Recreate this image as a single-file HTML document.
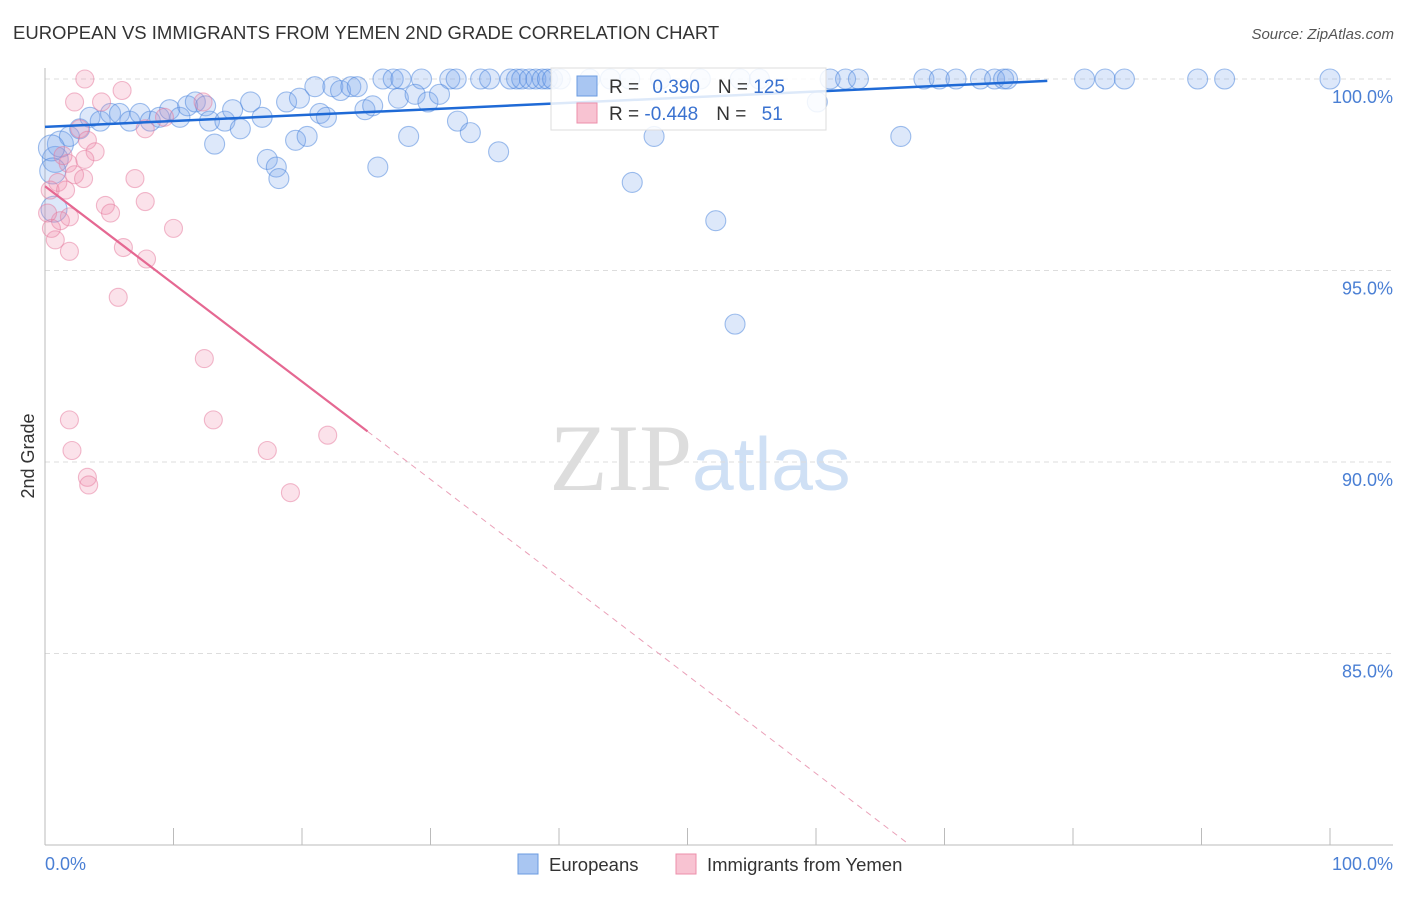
<!DOCTYPE html>
<html><head><meta charset="utf-8"><style>
body{margin:0;background:#fff;font-family:"Liberation Sans",sans-serif}
</style></head><body>
<svg width="1406" height="892" viewBox="0 0 1406 892" xmlns="http://www.w3.org/2000/svg" font-family="Liberation Sans, sans-serif">
<text x="13" y="39" font-size="18.5" fill="#333">EUROPEAN VS IMMIGRANTS FROM YEMEN 2ND GRADE CORRELATION CHART</text>
<text x="1394" y="39" font-size="15" fill="#555" font-style="italic" text-anchor="end">Source: ZipAtlas.com</text>
<text x="700" y="490" font-size="95" text-anchor="middle" fill="#ddd" font-family="Liberation Serif, serif">ZIP<tspan fill="#cfe0f5" font-family="Liberation Sans, sans-serif" font-size="75">atlas</tspan></text>
<g id="grid"></g>
<line x1="45" y1="68" x2="45" y2="845" stroke="#bbb"/>
<line x1="45" y1="845" x2="1393" y2="845" stroke="#bbb"/>
<text transform="translate(34,456) rotate(-90)" font-size="18" fill="#333" text-anchor="middle">2nd Grade</text>
<text x="45" y="870" font-size="18" fill="#4a7fd4">0.0%</text>
<text x="1393" y="870" font-size="18" fill="#4a7fd4" text-anchor="end">100.0%</text>
<g id="ylabels"></g>
<g id="dots"></g>
<g id="lines"></g>
<g>
<rect x="551" y="68" width="275" height="62" fill="rgba(255,255,255,0.85)" stroke="#ddd"/>
<rect x="577" y="76" width="20" height="20" fill="#a9c6f2" stroke="#6a9be0"/>
<rect x="577" y="103" width="20" height="20" fill="#f8c3d2" stroke="#ec8fab"/>
<text x="609" y="93" font-size="19" fill="#333">R = <tspan fill="#3a72d0" dx="8">0.390</tspan><tspan dx="18" fill="#333">N = </tspan><tspan fill="#3a72d0">125</tspan></text>
<text x="609" y="120" font-size="19" fill="#333">R = <tspan fill="#3a72d0">-0.448</tspan><tspan dx="18" fill="#333">N = </tspan><tspan fill="#3a72d0" dx="10">51</tspan></text>
</g>
<g>
<rect x="518" y="854" width="20" height="20" fill="#a9c6f2" stroke="#6a9be0"/>
<text x="549" y="871" font-size="18.5" fill="#333">Europeans</text>
<text x="707" y="871" font-size="18.5" fill="#333">Immigrants from Yemen</text>
<rect x="676" y="854" width="20" height="20" fill="#f8c3d2" stroke="#ec8fab"/>
</g>
</svg>
<script>
const yTicks=[100,95,90,85];
const yTickLabels=["100.0%","95.0%","90.0%","85.0%"];
const xTicks=[0,10,20,30,40,50,60,70,80,90,100];
const euroX=[26.3,27.1,27.7,29.3,31.5,32.0,33.9,34.6,36.2,36.7,37.1,37.7,38.2,38.7,39.1,39.5,40.1,42.4,44.0,45.5,47.9,51.0,54.1,55.6,61.1,62.3,63.3,68.4,69.6,70.9,72.8,73.9,74.6,74.9,80.9,82.5,84.0,89.7,91.8,100,
0.8,1.2,1.9,2.7,3.5,4.3,5.1,5.8,6.6,7.4,8.2,8.9,9.7,10.5,11.1,11.7,12.5,12.8,13.2,14.0,14.6,15.2,16.0,16.9,17.3,18.0,18.2,18.8,19.5,19.8,20.4,21.0,21.4,21.9,22.4,23.0,23.8,24.3,24.9,25.5,25.9,27.5,28.3,28.8,29.8,30.7,32.1,33.1,35.3,45.7,47.4,52.2,53.7,60.1,66.6,0.5,0.6,0.7];
const euroY=[100,100,100,100,100,100,100,100,100,100,100,100,100,100,100,100,100,100,100,100,100,100,100,100,100,100,100,100,100,100,100,100,100,100,100,100,100,100,100,100,
97.9,98.3,98.5,98.7,99.0,98.9,99.1,99.1,98.9,99.1,98.9,99.0,99.2,99.0,99.3,99.4,99.3,98.9,98.3,98.9,99.2,98.7,99.4,99.0,97.9,97.7,97.4,99.4,98.4,99.5,98.5,99.8,99.1,99.0,99.8,99.7,99.8,99.8,99.2,99.3,97.7,99.5,98.5,99.6,99.4,99.6,98.9,98.6,98.1,97.3,98.5,96.3,93.6,99.4,98.5,98.2,97.6,96.6];
const yemX=[3.1,6.0,2.3,4.4,12.3,7.8,2.7,3.3,3.9,3.1,1.8,2.3,3.0,1.0,0.4,1.6,7.0,7.8,4.7,5.1,1.9,1.2,10.0,0.8,6.1,1.9,7.9,5.7,12.4,1.9,13.1,2.1,22.0,17.3,3.3,3.4,19.1,9.3,0.2,0.5,1.4];
const yemY=[100,99.7,99.4,99.4,99.4,98.7,98.7,98.4,98.1,97.9,97.8,97.5,97.4,97.3,97.1,97.1,97.4,96.8,96.7,96.5,96.4,96.3,96.1,95.8,95.6,95.5,95.3,94.3,92.7,91.1,91.1,90.3,90.7,90.3,89.6,89.4,89.2,99.0,96.5,96.1,98.0];
const euroLine=[[0,98.75],[78,99.95]];
const yemLineSolid=[[0,97.2],[25.1,90.8]];
const yemLineDash=[[25.1,90.8],[67.3,80]];
const sx=v=>45+v*12.85, sy=v=>79+(100-v)*38.3;
const NS="http://www.w3.org/2000/svg";
function mk(t,a,p){const e=document.createElementNS(NS,t);for(const k in a)e.setAttribute(k,a[k]);p.appendChild(e);return e;}
const grid=document.getElementById('grid'),yl=document.getElementById('ylabels');
yTicks.forEach((t,i)=>{const l=mk('line',{x1:45,x2:1393,y1:sy(t),y2:sy(t),stroke:'#ddd','stroke-dasharray':'5,4'},grid);


const tx=mk('text',{x:1393,y:sy(t)+24,'font-size':18,fill:'#4a7fd4','text-anchor':'end'},yl);tx.textContent=yTickLabels[i];

});
xTicks.forEach(t=>{const l=mk('line',{x1:sx(t),x2:sx(t),y1:828,y2:845,stroke:'#bbb'},grid);

});
const dots=document.getElementById('dots');
euroX.forEach((x,i)=>{const r=(x<1.3&&i>=40)?13:10;const c=mk('circle',{cx:sx(x),cy:sy(euroY[i]),r:r,fill:'rgba(120,165,235,0.25)',stroke:'rgba(70,130,220,0.5)','stroke-width':1.1},dots);

});
yemX.forEach((x,i)=>{const c=mk('circle',{cx:sx(x),cy:sy(yemY[i]),r:9,fill:'rgba(240,140,170,0.25)',stroke:'rgba(230,120,155,0.5)','stroke-width':1.1},dots);

});
const lines=document.getElementById('lines');
function ln(p,st){return mk('line',Object.assign({x1:sx(p[0][0]),y1:sy(p[0][1]),x2:sx(p[1][0]),y2:sy(p[1][1])},st),lines);}
const a=ln(euroLine,{stroke:'#1f6ad6','stroke-width':2.5});


const b=ln(yemLineSolid,{stroke:'#e56892','stroke-width':2.2});


const c=ln(yemLineDash,{stroke:'#eaa0b8','stroke-width':1,'stroke-dasharray':'6,5'});


</script>
</body></html>
